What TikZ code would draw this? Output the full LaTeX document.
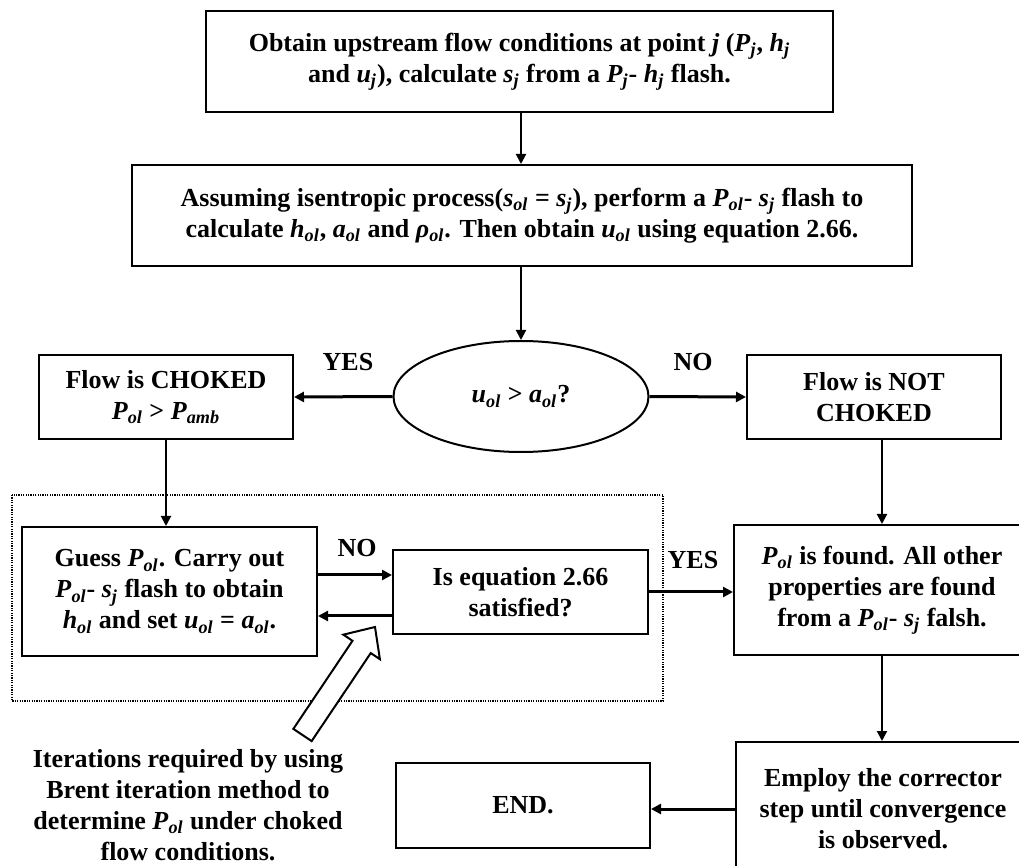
\documentclass[tikz,border=0pt]{standalone}
\usepackage{fontspec}
\setmainfont{Liberation Serif}
\usepackage{xcolor}
\usepackage{tikz}
\usetikzlibrary{shapes,arrows.meta,calc}

\newcommand{\qv}[2]{\textit{#1}\textsubscript{\textit{#2}}}

\tikzset{
    flowfont/.style={font=\fontsize{13}{15.5}\selectfont\bfseries},
    stepbox/.style={
        draw,
        line width=1pt,
        flowfont,
        align=center,
        inner sep=0pt
    },
    askshape/.style={
        ellipse,
        draw,
        line width=1pt,
        flowfont,
        inner sep=0pt
    },
    flowarrow/.style={
        -{Triangle[length=5pt,width=5pt]},
        line width=1pt
    },
    thickarrow/.style={
        flowarrow,
        line width=1.5pt
    }
}

\begin{document}
\begin{tikzpicture}[x=0.5pt,y=-0.5pt]
                \useasboundingbox (0,0) rectangle (1019,866);
                \clip (0,0) rectangle (1019,866);

                \node[
                    stepbox,
                    minimum width=313.5pt,
                    minimum height=50.5pt
                ] (upstream) at (519.5,61.5)
                    {Obtain upstream flow conditions at point \textit{j} (\qv{P}{j}, \qv{h}{j}\\
                     and \qv{u}{j}), calculate \qv{s}{j} from a \qv{P}{j}- \qv{h}{j} flash.};

                \node[
                    stepbox,
                    minimum width=390pt,
                    minimum height=50.5pt
                ] (isentropic) at (522,215.5)
                    {Assuming isentropic process(\qv{s}{ol} = \qv{s}{j}), perform a \qv{P}{ol}- \qv{s}{j} flash to\\
                     calculate \qv{h}{ol}, \qv{a}{ol} and \qv{ρ}{ol}. Then obtain \qv{u}{ol} using equation 2.66.};

                \node[
                    askshape,
                    minimum width=127.5pt,
                    minimum height=55.5pt
                ] (sonic) at (521,396.5) {\qv{u}{ol} > \qv{a}{ol}?};

                \node[
                    stepbox,
                    minimum width=127pt,
                    minimum height=42pt
                ] (choked) at (166,397) {Flow is CHOKED\\ \qv{P}{ol} > \qv{P}{amb}};

                \node[
                    stepbox,
                    minimum width=127pt,
                    minimum height=42pt
                ] (notchoked) at (874,397) {Flow is NOT\\ CHOKED};

                \node[
                    stepbox,
                    minimum width=147.5pt,
                    minimum height=64.5pt
                ] (guess) at (169.5,591.5)
                    {Guess \qv{P}{ol}. Carry out\\
                     \qv{P}{ol}- \qv{s}{j} flash to obtain\\
                     \qv{h}{ol} and set \qv{u}{ol} = \qv{a}{ol}.};

                \node[
                    stepbox,
                    minimum width=127.5pt,
                    minimum height=42pt
                ] (check) at (520.5,592) {Is equation 2.66\\ satisfied?};

                \node[
                    stepbox,
                    minimum width=148pt,
                    minimum height=65pt
                ] (found) at (882,590)
                    {\qv{P}{ol} is found. All other\\
                     properties are found\\
                     from a \qv{P}{ol}- \qv{s}{j} falsh.};

                \node[
                    stepbox,
                    minimum width=147pt,
                    minimum height=67pt
                ] (corrector) at (883,809)
                    {Employ the corrector\\
                     step until convergence\\
                     is observed.};

                \node[
                    stepbox,
                    minimum width=127pt,
                    minimum height=42.5pt
                ] (finish) at (523,805.5) {END.};

                \node[
                    flowfont,
                    align=center
                ] (brentnote) at (188,805)
                    {Iterations required by using\\
                     Brent iteration method to\\
                     determine \qv{P}{ol} under choked\\
                     flow conditions.};

                \node[flowfont] (yesleft) at (348,362) {YES};
                \node[flowfont] (noright) at (693,362) {NO};
                \node[flowfont] (noloop) at (357,548) {NO};
                \node[flowfont] (yesloop) at (693,560) {YES};

                \draw[
                    line width=0.6pt,
                    dash pattern=on 0.6pt off 0.6pt
                ] (12,495) rectangle (663,701);

                \draw[flowarrow] (sonic.north |- upstream.south) to (sonic.north |- isentropic.north);
                \draw[flowarrow] (sonic.north |- isentropic.south) to (sonic.north);
                \draw[thickarrow] (sonic.west) to (choked.east);
                \draw[thickarrow] (sonic.east) to (notchoked.west);
                \draw[flowarrow] (choked.south) to (choked.south |- guess.north);
                \draw[flowarrow] (found.north |- notchoked.south) to (found.north);

                \draw[
                    thickarrow
                ] ([yshift=8.25pt]guess.east) to ([yshift=8.25pt]guess.east -| check.west);

                \draw[
                    thickarrow
                ] ([yshift=-12pt]check.west) to ([yshift=-12pt]check.west -| guess.east);

                \draw[thickarrow] (check.east) to (check.east -| found.west);
                \draw[flowarrow] (found.south) to (found.south |- corrector.north);
                \draw[thickarrow] (corrector.west) to (corrector.west -| finish.east);

                \coordinate (pointtail) at (302.5,735);
                \coordinate (pointtip) at (375,627);
                \coordinate (pointhead) at ($(pointtip)!12pt!(pointtail)$);

                \draw[
                    line width=1pt,
                    fill=white,
                    line join=miter
                ] ($(pointtail)!5.5pt!90:(pointtip)$)
                    -- ($(pointhead)!5.5pt!90:(pointtip)$)
                    -- ($(pointhead)!11pt!90:(pointtip)$)
                    -- (pointtip)
                    -- ($(pointhead)!11pt!-90:(pointtip)$)
                    -- ($(pointhead)!5.5pt!-90:(pointtip)$)
                    -- ($(pointtail)!5.5pt!-90:(pointtip)$)
                    -- cycle;

            \end{tikzpicture}
\end{document}
